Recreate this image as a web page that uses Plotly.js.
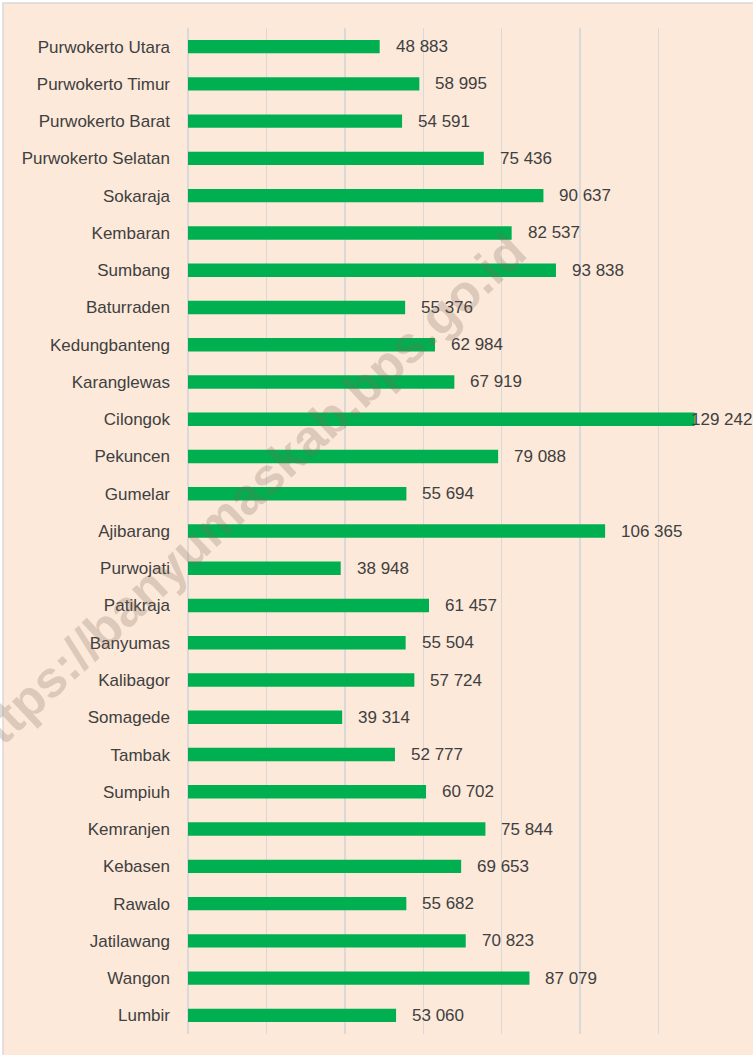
<!DOCTYPE html>
<html>
<head>
<meta charset="utf-8">
<script src="https://cdn.plot.ly/plotly-3.0.1.min.js"></script>
<style>html,body{margin:0;padding:0;background:#fff;}#chart{width:753px;height:1055px;}</style>
</head>
<body>
<div id="chart"></div>
<script>
const districts = ["Purwokerto Utara","Purwokerto Timur","Purwokerto Barat","Purwokerto Selatan","Sokaraja","Kembaran","Sumbang","Baturraden","Kedungbanteng","Karanglewas","Cilongok","Pekuncen","Gumelar","Ajibarang","Purwojati","Patikraja","Banyumas","Kalibagor","Somagede","Tambak","Sumpiuh","Kemranjen","Kebasen","Rawalo","Jatilawang","Wangon","Lumbir"];
const population = [48883,58995,54591,75436,90637,82537,93838,55376,62984,67919,129242,79088,55694,106365,38948,61457,55504,57724,39314,52777,60702,75844,69653,55682,70823,87079,53060];
const watermark = "https://banyumaskab.bps.go.id";

const fmt = v => String(v).replace(/\B(?=(\d{3})+(?!\d))/g, " ");
const FONT = "'Liberation Sans', Arial, sans-serif";
const TXT = "#404040";
const xMax = 140000;

const annotations = population.map((v, i) => ({
  x: v, y: districts[i], xref: "x", yref: "y",
  text: fmt(v), showarrow: false, xanchor: "left", yanchor: "middle",
  xshift: v > xMax * 0.9 ? -6 : 14,
  font: {family: FONT, size: 17, color: TXT}
}));
annotations.push({
  xref: "paper", yref: "paper", x: (242 - 188) / 549, y: (1034 - 499) / 1006,
  text: "<b>" + watermark + "</b>", showarrow: false, textangle: -43,
  xanchor: "center", yanchor: "middle",
  font: {family: "'Liberation Sans', Arial, sans-serif", size: 51, color: "rgba(125,100,85,0.24)"}
});

const trace = {
  type: "bar", orientation: "h",
  x: population, y: districts,
  marker: {color: "#00B050"},
  width: 0.36,
  hoverinfo: "x+y"
};

const layout = {
  width: 753, height: 1055,
  margin: {l: 188, r: 16, t: 28, b: 21, pad: 0},
  paper_bgcolor: "#ffffff",
  plot_bgcolor: "rgba(0,0,0,0)",
  showlegend: false,
  xaxis: {
    range: [0, xMax], dtick: 20000, showticklabels: false,
    showgrid: true, gridcolor: "#D9D9D9", gridwidth: 1.5,
    zeroline: true, zerolinecolor: "#D9D9D9", zerolinewidth: 1.5,
    showline: false, ticks: "", fixedrange: true
  },
  yaxis: {
    type: "category", autorange: "reversed",
    showgrid: false, zeroline: false, showline: false, ticks: "",
    ticklabelstandoff: 17,
    tickfont: {family: FONT, size: 17, color: TXT}
  },
  annotations: annotations,
  shapes: [{
    type: "rect", xref: "paper", yref: "paper", layer: "below",
    x0: (3 - 188) / 549, x1: (770 - 188) / 549,
    y0: (1034 - 1070) / 1006, y1: (1034 - 3) / 1006,
    fillcolor: "#FCE9DA", line: {color: "#D9D9D9", width: 1.5}
  }]
};

Plotly.newPlot("chart", [trace], layout, {staticPlot: true, displayModeBar: false});
</script>
</body>
</html>
